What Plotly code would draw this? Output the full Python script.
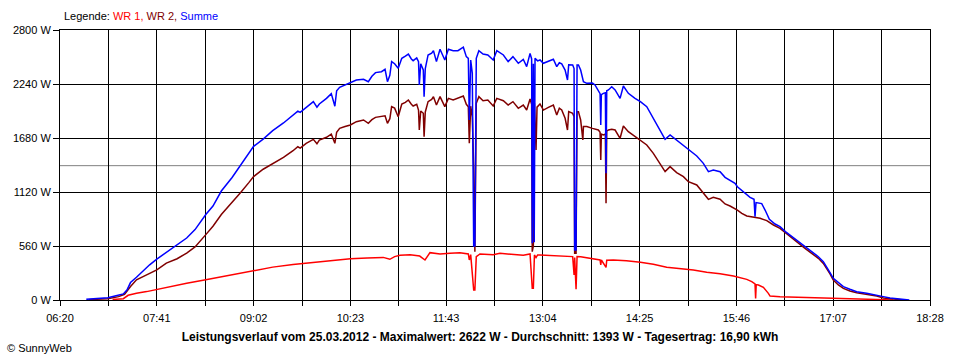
import plotly.graph_objects as go

# ---------------- data ----------------
TITLE = ("Leistungsverlauf vom 25.03.2012 - Maximalwert: 2622 W - "
         "Durchschnitt: 1393 W - Tagesertrag: 16,90 kWh")
AVERAGE_W = 1393
X_TICK_LABELS = ["06:20", "07:41", "09:02", "10:23", "11:43",
                 "13:04", "14:25", "15:46", "17:07", "18:28"]
Y_TICKS = [0, 560, 1120, 1680, 2240, 2800]

summe_time = [
    "06:42", "06:51", "07:00", "07:06", "07:13", "07:16", "07:19", "07:24", "07:30", "07:35",
    "07:41", "07:49", "07:58", "08:06", "08:13", "08:22", "08:28", "08:35", "08:44", "08:51",
    "08:58", "09:02", "09:10", "09:18", "09:27", "09:35", "09:39", "09:41",
    "09:46", "09:52", "09:55", "09:57", "10:03", "10:07", "10:10", "10:11:30", "10:14", "10:18:30",
    "10:23", "10:28", "10:34", "10:38", "10:41", "10:44", "10:49", "10:52", "10:54", "10:56",
    "10:57:30", "11:00", "11:03", "11:06", "11:09", "11:11:30", "11:14", "11:15:30", "11:18:30", "11:20",
    "11:20:40", "11:21:50", "11:24", "11:24:40", "11:25:40", "11:28", "11:31", "11:32:30", "11:35", "11:38",
    "11:42", "11:45", "11:49", "11:53", "11:57:30", "12:00", "12:01:40", "12:02:30", "12:03:40", "12:05",
    "12:06:10", "12:07:10", "12:08:20", "12:10:30", "12:14", "12:18", "12:22:30", "12:25:30", "12:31", "12:35",
    "12:39", "12:43:30", "12:47:40", "12:50:30", "12:53:20", "12:54:40", "12:55:10", "12:56:05", "12:56:50", "12:57:30",
    "12:59:40", "13:01:40", "13:04:30", "13:08:40", "13:12:50", "13:15:40", "13:17:50", "13:19:50", "13:22:40", "13:24:40",
    "13:25:40", "13:29", "13:30:10", "13:30:40", "13:31:50", "13:32:40", "13:33:50", "13:35:40", "13:38", "13:40:50",
    "13:45:30", "13:47:40", "13:50:30", "13:51:55", "13:52:30", "13:53", "13:54:40", "13:56:20", "13:56:55", "13:57:30",
    "13:58:55", "14:01:40", "14:04:30", "14:08:40", "14:11:25", "14:15:35", "14:21:10", "14:25:40", "14:31", "14:36:30",
    "14:42", "14:46:20", "14:50:30", "14:56", "15:01:40", "15:05:50", "15:12:50", "15:18:20", "15:22:35", "15:26:40",
    "15:32:20", "15:36:30", "15:40:40", "15:44:50", "15:46:50", "15:53:10", "15:57:25", "16:00:45", "16:01:35", "16:02:25",
    "16:07:10", "16:10", "16:13:35", "16:18:20", "16:22:30", "16:27", "16:32:20", "16:37:50", "16:43:25", "16:49",
    "16:54:35", "16:58:45", "17:01:35", "17:04:20", "17:07:05", "17:11:20", "17:15:30", "17:21", "17:26:40", "17:35",
    "17:43:25", "17:49", "17:54:30", "18:02:55", "18:10:40",
]
summe_watt = [
    7, 14, 24, 42, 63, 104, 181, 236, 306, 365,
    424, 494, 574, 643, 730, 887, 974, 1130, 1270, 1391,
    1523, 1593, 1669, 1756, 1836, 1913, 1958, 1945,
    1998, 2057, 2000, 2033, 2091, 2140, 2010, 2170, 2206, 2230,
    2254, 2282, 2289, 2264, 2320, 2358, 2368, 2392, 2264, 2330,
    2472, 2450, 2403, 2506, 2530, 2551, 2500, 2482, 2510, 2472,
    2230, 2450, 2385, 2109, 2400, 2541, 2560, 2586, 2472, 2600,
    2489, 2600, 2586, 2586, 2622, 2524, 2506, 1867, 2489, 2350,
    560, 560, 2506, 2586, 2551, 2541, 2489, 2586, 2541, 2472,
    2524, 2455, 2496, 2420, 2558, 2500, 588, 2450, 600, 2506,
    2480, 2489, 2455, 2472, 2496, 2420, 2460, 2448, 2385, 2282,
    2440, 2437, 2400, 518, 518, 2437, 2437, 2385, 2264, 2247,
    2250, 2230, 2178, 2140, 1815, 2130, 2143, 2150, 1314, 2170,
    2178, 2212, 2178, 2091, 2219, 2143, 2091, 2057, 2005, 1884,
    1763, 1666, 1711, 1659, 1608, 1563, 1493, 1417, 1331, 1348,
    1330, 1272, 1245, 1210, 1175, 1106, 1065, 1044, 864, 1010,
    1000, 933, 837, 788, 761, 709, 657, 605, 553, 501,
    449, 398, 346, 283, 225, 180, 138, 111, 86, 69,
    52, 35, 21, 7, 0,
]

wr2_time = [
    "06:44", "07:00", "07:09", "07:14", "07:19", "07:24", "07:32:30", "07:41", "07:49", "07:58",
    "08:06", "08:13", "08:22", "08:28", "08:35", "08:44", "08:51", "08:58", "09:02", "09:10",
    "09:18", "09:27", "09:35", "09:39", "09:41",
    "09:46", "09:52", "09:55", "09:57", "10:03", "10:07", "10:10", "10:11:30", "10:14", "10:18:30",
    "10:23", "10:28", "10:34", "10:38", "10:41", "10:44", "10:49", "10:52", "10:54", "10:56",
    "10:57:30", "11:00", "11:03", "11:06", "11:09", "11:11:30", "11:14", "11:15:30", "11:18:30", "11:20",
    "11:20:40", "11:21:50", "11:24", "11:24:40", "11:25:40", "11:28", "11:31", "11:32:30", "11:35", "11:38",
    "11:42", "11:45", "11:49", "11:53", "11:57:30", "12:00", "12:01:40", "12:02:30", "12:03:40", "12:05",
    "12:06:10", "12:07:10", "12:08:20", "12:10:30", "12:14", "12:18", "12:22:30", "12:25:30", "12:31", "12:35",
    "12:39", "12:43:30", "12:47:40", "12:50:30", "12:53:20", "12:54:40", "12:55:10", "12:56:05", "12:57", "12:58:20",
    "12:59:10", "13:01:40", "13:04:30", "13:08:40", "13:12:50", "13:15:40", "13:17:50", "13:19:50", "13:22:40", "13:24:40",
    "13:25:40", "13:29", "13:30:10", "13:30:40", "13:31:50", "13:32:40", "13:33:50", "13:35:40", "13:37:30", "13:38",
    "13:40:50", "13:45:30", "13:47:40", "13:50:30", "13:51:55", "13:52:30", "13:53", "13:54:40", "13:56:20", "13:56:55",
    "13:57:30", "13:58:55", "14:01:40", "14:04:30", "14:08:40", "14:11:25", "14:15:35", "14:21:10", "14:25:40", "14:31",
    "14:36:30", "14:42", "14:46:20", "14:50:30", "14:56", "15:01:40", "15:05:50", "15:12:50", "15:18:20", "15:22:35",
    "15:26:40", "15:32:20", "15:36:30", "15:40:40", "15:46:50", "15:50:30", "15:54:40", "16:00:45", "16:05:50", "16:11:25",
    "16:17", "16:22:30", "16:27", "16:32:20", "16:37:50", "16:43:25", "16:49", "16:54:35", "16:58:45", "17:01:35",
    "17:04:20", "17:07:05", "17:11:20", "17:15:30", "17:21", "17:26:40", "17:35", "17:43:25", "17:49", "17:57:20",
    "18:05:40",
]
wr2_watt = [
    3, 14, 35, 59, 139, 209, 261, 313, 383, 428,
    487, 550, 678, 765, 887, 1009, 1113, 1217, 1280, 1356,
    1416, 1478, 1548, 1589, 1575,
    1625, 1666, 1620, 1659, 1687, 1720, 1625, 1740, 1780, 1800,
    1815, 1849, 1867, 1832, 1870, 1894, 1901, 1910, 1832, 1880,
    2005, 1990, 1901, 2033, 2050, 2074, 2030, 2012, 2030, 1970,
    1763, 1960, 1936, 1694, 1950, 2057, 2080, 2109, 2022, 2109,
    2005, 2091, 2074, 2091, 2116, 2030, 2005, 1625, 2010, 1900,
    1383, 500, 2040, 2109, 2067, 2074, 2012, 2091, 2067, 2022,
    2057, 1988, 2022, 1970, 2085, 2030, 501, 560, 2040, 1556,
    2000, 2033, 1970, 1998, 2022, 1919, 1990, 1970, 1884, 1763,
    1953, 1935, 1900, 484, 484, 1953, 1953, 1867, 1659, 1798,
    1798, 1780, 1770, 1763, 1740, 1452, 1720, 1711, 1720, 1003,
    1750, 1763, 1770, 1763, 1677, 1805, 1746, 1694, 1659, 1608,
    1521, 1417, 1331, 1383, 1321, 1279, 1227, 1193, 1106, 1044,
    1065, 1045, 996, 975, 933, 899, 871, 857, 847, 823,
    778, 743, 698, 640, 588, 536, 484, 432, 380, 328,
    270, 207, 156, 121, 93, 76, 59, 41, 21, 7,
    0,
]

wr1_time = [
    "07:04", "07:13", "07:17", "07:24", "07:32:30", "07:41", "07:52", "08:06", "08:22", "08:37",
    "08:51", "09:02", "09:18", "09:35", "09:41", "09:52", "10:03", "10:14", "10:23", "10:37",
    "10:50:30", "10:56", "11:00", "11:04:30", "11:13", "11:21", "11:25:25", "11:29:35", "11:38", "11:46:20",
    "11:54:40", "12:01:40", "12:02:30", "12:03:40", "12:06:10", "12:07:10", "12:08:20", "12:11:25", "12:22:30", "12:28:10",
    "12:39", "12:47:40", "12:53:20", "12:55:10", "12:56:05", "12:57", "12:58:20", "12:59:40", "13:01:40", "13:15:40",
    "13:24:40", "13:29", "13:30:10", "13:30:40", "13:31:50", "13:32:40", "13:35:40", "13:43:30", "13:51:55", "13:52:30",
    "13:53", "13:56:55", "13:57:30", "14:03", "14:14", "14:25:40", "14:36:30", "14:47:40", "14:58:50", "15:10",
    "15:21:10", "15:32:20", "15:43:30", "15:49:05", "15:54:40", "15:58:50", "16:01:35", "16:02:05", "16:02:35", "16:04:25",
    "16:08:35", "16:12:45", "16:14:10", "16:22:30", "16:46:10", "16:56", "17:22:30", "17:46", "17:57:20",
]
wr1_watt = [
    5, 14, 49, 70, 87, 111, 139, 174, 209, 243,
    278, 306, 341, 369, 376, 391, 408, 422, 429, 436,
    442, 422, 450, 463, 470, 456, 415, 491, 477, 484,
    491, 477, 415, 470, 104, 104, 449, 477, 470, 484,
    470, 463, 477, 121, 121, 467, 440, 467, 467, 456,
    449, 450, 259, 440, 111, 450, 449, 436, 415, 363,
    415, 339, 412, 415, 408, 391, 370, 339, 328, 311,
    287, 272, 249, 232, 214, 190, 166, 17, 160, 156,
    131, 69, 41, 35, 28, 21, 10, 7, 0,
]


def to_minutes(t):
    parts = [int(p) for p in t.split(":")]
    while len(parts) < 3:
        parts.append(0)
    return parts[0] * 60 + parts[1] + parts[2] / 60.0


# ---------------- figure ----------------
FONT = "Liberation Sans, Arial, sans-serif"

fig = go.Figure()
series = [
    ("WR 1", wr1_time, wr1_watt, "#ff0000"),
    ("WR 2", wr2_time, wr2_watt, "#800000"),
    ("Summe", summe_time, summe_watt, "#0000ff"),
]
for name, times, watts, color in series:
    fig.add_trace(go.Scatter(
        x=[to_minutes(t) for t in times], y=watts, name=name, mode="lines",
        line=dict(color=color, width=1.5), showlegend=False,
    ))

# x gridlines: labelled ticks plus a midpoint between each pair
label_pos = [to_minutes(t) for t in X_TICK_LABELS]
x_vals, x_text = [], []
for i, (p, lab) in enumerate(zip(label_pos, X_TICK_LABELS)):
    x_vals.append(p)
    x_text.append(lab)
    if i < len(label_pos) - 1:
        x_vals.append((p + label_pos[i + 1]) / 2)
        x_text.append("")

# average line
fig.add_shape(type="line", xref="paper", x0=0, x1=1, yref="y",
              y0=AVERAGE_W, y1=AVERAGE_W, line=dict(color="#808080", width=1),
              layer="between")

fig.update_xaxes(
    range=[label_pos[0], label_pos[-1]], tickmode="array", tickvals=x_vals, ticktext=x_text,
    showgrid=True, gridcolor="#000000", gridwidth=1, zeroline=False,
    showline=True, linecolor="#000000", linewidth=1, mirror=True,
    ticks="outside", ticklen=5, tickcolor="#000000", tickwidth=1,
    ticklabelstandoff=3,
    tickfont=dict(family=FONT, size=11, color="#000000"),
)
fig.update_yaxes(
    range=[Y_TICKS[0], Y_TICKS[-1]], tickmode="array", tickvals=Y_TICKS,
    ticktext=[f"{v} W" for v in Y_TICKS],
    showgrid=True, gridcolor="#000000", gridwidth=1, zeroline=False,
    showline=True, linecolor="#000000", linewidth=1, mirror=True,
    ticks="outside", ticklen=6, tickcolor="#000000", tickwidth=1,
    tickfont=dict(family=FONT, size=11, color="#000000"),
)

fig.update_layout(
    width=960, height=360, autosize=False,
    margin=dict(l=60, r=30, t=30, b=60, pad=0),
    paper_bgcolor="#ffffff", plot_bgcolor="#ffffff",
    font=dict(family=FONT, size=11, color="#000000"),
    title=dict(text="<b>" + TITLE + "</b>", x=0.5, xref="container", xanchor="center",
               y=1 - 337 / 360, yref="container", yanchor="middle",
               font=dict(family=FONT, size=12, color="#000000")),
    annotations=[
        dict(text=("Legende: <span style='color:#ff0000'>WR 1, </span>"
                   "<span style='color:#800000'>WR 2, </span>"
                   "<span style='color:#0000ff'>Summe</span>"),
             xref="paper", yref="paper", x=(62 - 60) / 870, y=(300 - 16) / 270,
             xanchor="left", yanchor="middle", showarrow=False,
             font=dict(family=FONT, size=11, color="#000000")),
        dict(text="© SunnyWeb", xref="paper", yref="paper",
             x=(5 - 60) / 870, y=(300 - 348) / 270, xanchor="left", yanchor="middle",
             showarrow=False, font=dict(family=FONT, size=11, color="#000000")),
    ],
)

fig.write_html("out.html", config={"displayModeBar": False},
               post_script="document.body.style.margin='0';document.body.style.overflow='hidden';")
